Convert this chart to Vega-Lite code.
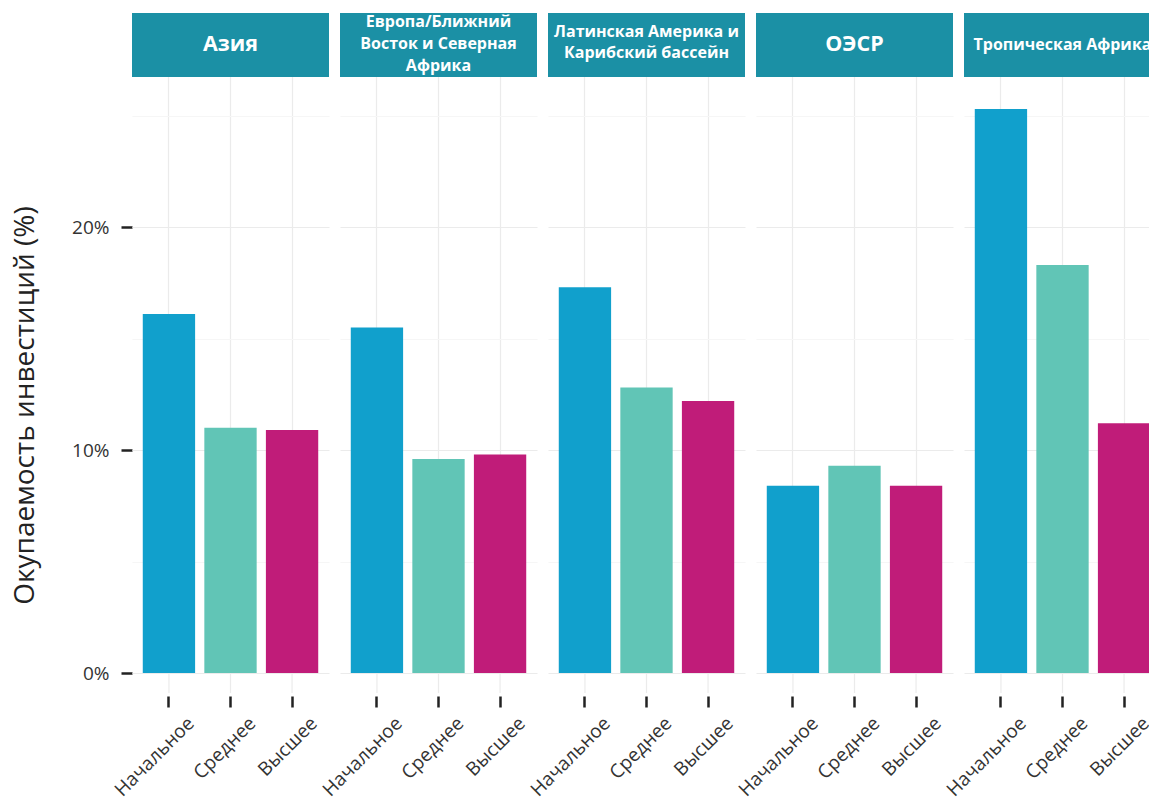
{
  "$schema": "https://vega.github.io/schema/vega-lite/v6.json",
  "padding": {"left": 11, "top": 13, "right": 0, "bottom": 0},
  "background": "white",
  "data": {"values": [
    {"region": "Азия", "level": "Начальное", "roi": 0.161},
    {"region": "Азия", "level": "Среднее", "roi": 0.110},
    {"region": "Азия", "level": "Высшее", "roi": 0.109},
    {"region": "Европа/Ближний Восток и Северная Африка", "level": "Начальное", "roi": 0.155},
    {"region": "Европа/Ближний Восток и Северная Африка", "level": "Среднее", "roi": 0.096},
    {"region": "Европа/Ближний Восток и Северная Африка", "level": "Высшее", "roi": 0.098},
    {"region": "Латинская Америка и Карибский бассейн", "level": "Начальное", "roi": 0.173},
    {"region": "Латинская Америка и Карибский бассейн", "level": "Среднее", "roi": 0.128},
    {"region": "Латинская Америка и Карибский бассейн", "level": "Высшее", "roi": 0.122},
    {"region": "ОЭСР", "level": "Начальное", "roi": 0.084},
    {"region": "ОЭСР", "level": "Среднее", "roi": 0.093},
    {"region": "ОЭСР", "level": "Высшее", "roi": 0.084},
    {"region": "Тропическая Африка", "level": "Начальное", "roi": 0.253},
    {"region": "Тропическая Африка", "level": "Среднее", "roi": 0.183},
    {"region": "Тропическая Африка", "level": "Высшее", "roi": 0.112}
  ]},
  "facet": {"column": {"field": "region", "type": "nominal", "header": {"labels": false, "title": null}, "title": null}},
  "spacing": 11,
  "spec": {
    "width": 197,
    "height": 660,
    "layer": [
      {
        "mark": {"type": "rule", "color": "#ebebeb", "strokeWidth": 1.2},
        "encoding": {
          "x": {"field": "level", "type": "nominal", "sort": ["Начальное", "Среднее", "Высшее"], "bandPosition": 0.5},
          "y": {"datum": 0, "type": "quantitative"},
          "y2": {"datum": -0.009}
        }
      },
      {
        "mark": {"type": "bar"},
        "encoding": {
          "x": {"field": "level", "type": "nominal", "sort": ["Начальное", "Среднее", "Высшее"],
                "scale": {"paddingInner": 0.15, "paddingOuter": 0.175},
                "axis": {"title": null, "labelAngle": -45, "labelAlign": "right", "labelBaseline": "middle", "labelOffset": 22,
                          "labelFontSize": 19, "labelColor": "#333333", "labelPadding": 13,
                          "domain": false, "tickSize": 11, "tickWidth": 2.5, "tickColor": "#222222", "offset": 2,
                          "grid": true, "gridColor": "#ebebeb", "gridWidth": 1.2, "bandPosition": 0.5}},
          "y": {"field": "roi", "type": "quantitative",
                "scale": {"domain": [0, 0.296], "nice": false, "zero": true},
                "axis": {"title": "Окупаемость инвестиций (%)", "titleFontSize": 28, "titleFontWeight": "normal", "titleColor": "#222222", "titlePadding": 32, "titleY": 392,
                          "values": [0, 0.05, 0.1, 0.15, 0.2, 0.25], "format": ".0%",
                          "labelExpr": "round(datum.value*100) % 10 == 0 ? datum.label : ''",
                          "labelFontSize": 19, "labelColor": "#333333", "labelPadding": 12,
                          "domain": false, "tickSize": 11, "tickWidth": 2.5,
                          "tickColor": {"condition": {"test": "round(datum.value*100) % 10 == 0", "value": "#222222"}, "value": "transparent"},
                          "grid": true,
                          "gridColor": {"condition": {"test": "round(datum.value*100) % 10 == 0", "value": "#ebebeb"}, "value": "#f6f6f6"},
                          "gridWidth": 1.2}},
          "color": {"field": "level", "type": "nominal", "scale": {"domain": ["Начальное", "Среднее", "Высшее"], "range": ["#11a0cc", "#61c5b6", "#c01c79"]}, "legend": null}
        }
      },
      {
        "mark": {"type": "rect", "color": "#1b90a5"},
        "encoding": {
          "y": {"datum": 0.2673, "type": "quantitative"},
          "y2": {"datum": 0.296}
        }
      },
      {
        "transform": [{"filter": "datum.level == 'Начальное' && (datum.region == 'Азия' || datum.region == 'ОЭСР')"}],
        "mark": {"type": "text", "color": "white", "fontWeight": "bold", "align": "center", "baseline": "middle", "fontSize": 21.5},
        "encoding": {
          "y": {"datum": 0.2817, "type": "quantitative"},
          "text": {"field": "region"}
        }
      },
      {
        "transform": [{"filter": "datum.level == 'Начальное' && datum.region == 'Тропическая Африка'"}],
        "mark": {"type": "text", "color": "white", "fontWeight": "bold", "align": "center", "baseline": "middle", "fontSize": 16},
        "encoding": {
          "y": {"datum": 0.2817, "type": "quantitative"},
          "text": {"field": "region"}
        }
      },
      {
        "transform": [{"filter": "datum.level == 'Начальное' && datum.region == 'Латинская Америка и Карибский бассейн'"}],
        "mark": {"type": "text", "color": "white", "fontWeight": "bold", "align": "center", "baseline": "middle", "fontSize": 16, "lineHeight": 21},
        "encoding": {
          "y": {"datum": 0.2875, "type": "quantitative"},
          "text": {"value": ["Латинская Америка и", "Карибский бассейн"]}
        }
      },
      {
        "transform": [{"filter": "datum.level == 'Начальное' && datum.region == 'Европа/Ближний Восток и Северная Африка'"}],
        "mark": {"type": "text", "color": "white", "fontWeight": "bold", "align": "center", "baseline": "middle", "fontSize": 16, "lineHeight": 22},
        "encoding": {
          "y": {"datum": 0.2920, "type": "quantitative"},
          "text": {"value": ["Европа/Ближний", "Восток и Северная", "Африка"]}
        }
      }
    ]
  },
  "config": {
    "font": "Open Sans",
    "view": {"stroke": null}
  }
}
